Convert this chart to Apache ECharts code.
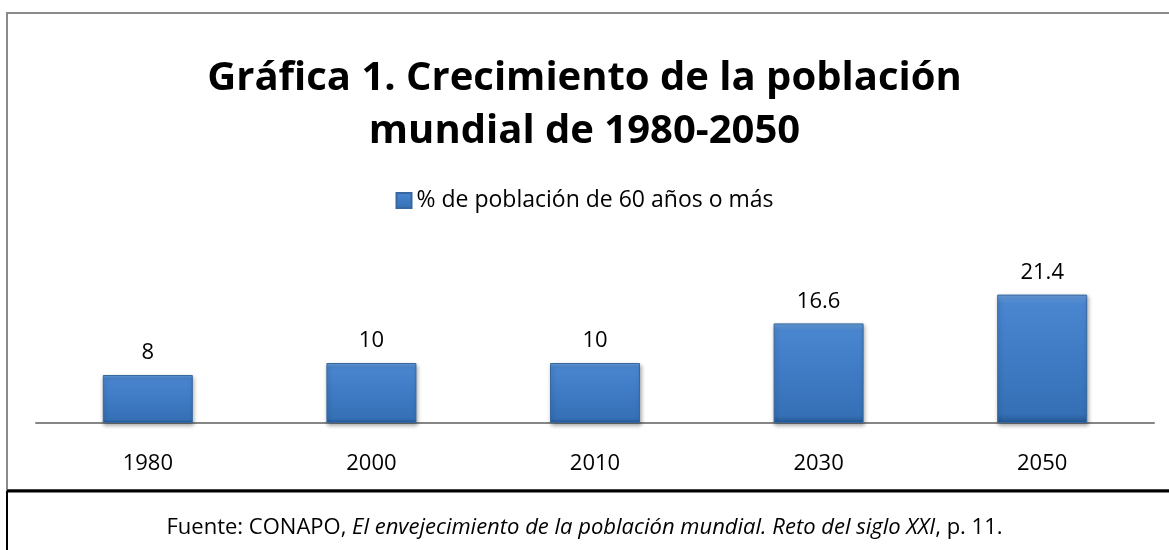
<!DOCTYPE html>
<html><head><meta charset="utf-8">
<script src="https://cdn.jsdelivr.net/npm/echarts@6/dist/echarts.min.js"></script>
<style>html,body{margin:0;padding:0;background:#fff}#c{width:1169px;height:550px}</style>
</head><body><div id="c"></div>
<script>
const categories = ['1980', '2000', '2010', '2030', '2050'];
const values = [8, 10, 10, 16.6, 21.4];
const seriesName = '% de población de 60 años o más';
const titleText = 'Gráfica 1. Crecimiento de la población\nmundial de 1980-2050';
const sourcePlain = 'Fuente: CONAPO, ';
const sourceItalic = 'El envejecimiento de la población mundial. Reto del siglo XXI';
const sourceEnd = ', p. 11.';

const FONT = '"Open Sans", "Noto Sans", sans-serif';
const chart = echarts.init(document.getElementById('c'), null, {renderer: 'canvas'});
chart.setOption({
  animation: false,
  backgroundColor: '#fff',
  title: {
    text: titleText, left: 'center', top: 47,
    textStyle: {fontFamily: FONT, fontWeight: 'bold', fontSize: 40, color: '#000', lineHeight: 53}
  },
  legend: {
    top: 184, left: 'center', itemWidth: 15, itemHeight: 15, itemGap: 6,
    textStyle: {fontFamily: FONT, fontSize: 23, color: '#000'},
    data: [{name: seriesName, icon: 'rect'}]
  },
  grid: {left: 36, right: 15, top: 243, bottom: 127},
  xAxis: {
    type: 'category', data: categories,
    axisLine: {lineStyle: {color: '#868686', width: 2}},
    axisTick: {show: false},
    axisLabel: {fontFamily: FONT, fontSize: 22, color: '#000', margin: 30}
  },
  yAxis: {type: 'value', min: 0, max: 30, show: false, splitLine: {show: false}},
  series: [{
    name: seriesName, type: 'bar', data: values, barWidth: 90,
    itemStyle: {
      color: new echarts.graphic.LinearGradient(0, 0, 0, 1, [
        {offset: 0, color: '#6a9fdc'}, {offset: 0.07, color: '#4a86cf'},
        {offset: 0.5, color: '#3f7bc4'}, {offset: 0.93, color: '#3570b6'},
        {offset: 1, color: '#23568f'}
      ]),
      borderColor: '#36689f', borderWidth: 1,
      shadowColor: 'rgba(0,0,0,0.35)', shadowBlur: 4, shadowOffsetX: 1, shadowOffsetY: 2
    },
    label: {show: true, position: 'top', distance: 11, fontFamily: FONT, fontSize: 22, color: '#000'}
  }],
  graphic: [
    {type: 'rect', shape: {x: 7, y: 13, width: 1200, height: 477}, style: {fill: 'none', stroke: '#8a8a8a', lineWidth: 2}, silent: true},
    {type: 'line', shape: {x1: 7, y1: 491, x2: 1169, y2: 491}, style: {stroke: '#000', lineWidth: 3}},
    {type: 'line', shape: {x1: 7, y1: 491, x2: 7, y2: 550}, style: {stroke: '#000', lineWidth: 2}},
    {type: 'text', left: 'center', top: 517, style: {
      text: '{a|' + sourcePlain + '}{b|' + sourceItalic + '}{a|' + sourceEnd + '}',
      rich: {
        a: {fontFamily: FONT, fontSize: 22, fill: '#000'},
        b: {fontFamily: FONT, fontSize: 22, fontStyle: 'italic', fill: '#000'}
      }
    }}
  ]
});
</script></body></html>
